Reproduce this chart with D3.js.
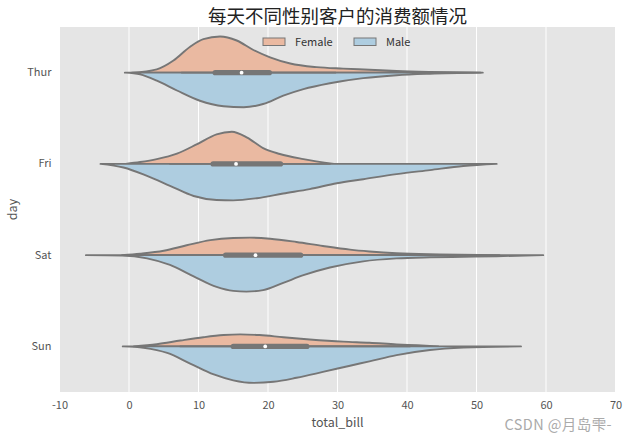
<!DOCTYPE html>
<html><head><meta charset="utf-8">
<script src="https://cdn.jsdelivr.net/npm/d3@7/dist/d3.min.js"></script>
<style>body{margin:0;background:#fff}</style>
</head><body>
<svg id="c" width="630" height="438"></svg>
<script>
const days = ["Thur", "Fri", "Sat", "Sun"];
const sexes = ["Female", "Male"];
const xTicks = [-10, 0, 10, 20, 30, 40, 50, 60, 70];

// violin density profiles: [total_bill, relative density]
const thurFemale = [[0.4,0],[4,0.09],[6.4,0.33],[8.8,0.71],[10.7,0.92],[13.1,0.99],[15.5,0.88],[17.9,0.62],[20.3,0.42],[23.2,0.25],[27,0.15],[30.8,0.11],[34.6,0.08],[38.5,0.045],[43.3,0.02],[50.9,0]];
const thurMale   = [[-0.6,0],[1.6,0.05],[4,0.22],[6.9,0.49],[10.2,0.77],[13.6,0.92],[16.5,0.95],[19.3,0.86],[22.2,0.63],[25.1,0.45],[28.9,0.29],[33.7,0.15],[38.5,0.07],[43.3,0.03],[50.6,0]];
const friFemale  = [[-0.5,0],[1.6,0.05],[4,0.13],[6.9,0.28],[9.8,0.54],[12.6,0.81],[14.8,0.88],[17,0.72],[19.3,0.43],[21.7,0.27],[25.1,0.13],[29.5,0]];
const friMale    = [[-4.1,0],[-0.8,0.1],[2.6,0.33],[5.9,0.6],[9.3,0.88],[12.6,0.99],[15,1.0],[18.4,0.94],[22.2,0.81],[26,0.69],[29.9,0.53],[33.7,0.42],[38.5,0.28],[43.3,0.17],[48.1,0.06],[52.9,0]];
const satFemale  = [[-1,0],[1.6,0.04],[5,0.12],[8.3,0.27],[11.7,0.41],[15,0.47],[17.4,0.48],[20.3,0.45],[24.1,0.36],[27.9,0.25],[31.8,0.15],[34.6,0.1],[38.5,0.05],[44.7,0.02],[53.3,0]];
const satMale    = [[-6.2,0],[-1,0.01],[2.6,0.09],[5.9,0.27],[9.3,0.58],[12.6,0.87],[15,0.98],[16.9,1.0],[19.3,0.96],[22.2,0.76],[25.1,0.55],[28.9,0.34],[33.7,0.17],[38.5,0.09],[43.3,0.06],[48.1,0.045],[52.9,0.03],[59.6,0]];
const sunFemale  = [[0.7,0],[4,0.06],[7.4,0.16],[10.7,0.25],[13.6,0.31],[16,0.33],[18.8,0.31],[22.2,0.25],[26,0.19],[30.8,0.13],[34.6,0.1],[38.5,0.055],[41.5,0.03],[44.5,0]];
const sunMale    = [[-0.9,0],[2.1,0.04],[5.5,0.18],[8.8,0.47],[12.2,0.77],[15,0.93],[17.9,1.0],[20.8,0.97],[24.1,0.86],[27.9,0.7],[31.8,0.53],[34.6,0.41],[38.5,0.24],[43.3,0.1],[48.1,0.035],[56.4,0]];

// inner box statistics per day
const q1 = [12.4, 12.1, 13.9, 15.0];
const medians = [16.2, 15.4, 18.2, 19.6];
const q3 = [20.2, 21.8, 24.7, 25.6];
const whiskerLow = [7.5, 5.8, 3.1, 7.3];
const whiskerHigh = [29.8, 29.0, 40.5, 40.5];

const profiles = {
  Thur: {Female: thurFemale, Male: thurMale},
  Fri: {Female: friFemale, Male: friMale},
  Sat: {Female: satFemale, Male: satMale},
  Sun: {Female: sunFemale, Male: sunMale}
};
const colors = {Female: "#eab9a1", Male: "#aecde0"};
const gray = "#767676";

const svg = d3.select("#c");
const m = {l: 59.5, r: 615.5, t: 27, b: 392};
const x = d3.scaleLinear().domain([-10, 70]).range([m.l, m.r]);
const y = d3.scaleBand().domain(days).range([m.t, m.b]).padding(0);
const w = d3.scaleLinear().domain([0, 1]).range([0, y.bandwidth() * 0.4]);

svg.append("defs").append("clipPath").attr("id", "clip")
  .append("rect").attr("x", m.l).attr("y", m.t).attr("width", m.r - m.l).attr("height", m.b - m.t);

svg.append("rect").attr("x", m.l).attr("y", m.t).attr("width", m.r - m.l).attr("height", m.b - m.t)
  .attr("fill", "#e5e5e5");

svg.append("g").selectAll("line").data(xTicks).join("line")
  .attr("x1", d => x(d)).attr("x2", d => x(d)).attr("y1", m.t).attr("y2", m.b)
  .attr("stroke", "#fff").attr("stroke-width", 1);

const plot = svg.append("g").attr("clip-path", "url(#clip)");

days.forEach((day, i) => {
  const cy = y(day) + y.bandwidth() / 2;
  sexes.forEach(sex => {
    const sign = sex === "Female" ? -1 : 1;
    const area = d3.area()
      .x(d => x(d[0]))
      .y0(cy)
      .y1(d => cy + sign * w(d[1]))
      .curve(d3.curveMonotoneX);
    plot.append("path").datum(profiles[day][sex])
      .attr("d", area)
      .attr("fill", colors[sex])
      .attr("stroke", gray).attr("stroke-width", 1.9).attr("stroke-linejoin", "round");
  });
  plot.append("line")
    .attr("x1", x(whiskerLow[i])).attr("x2", x(whiskerHigh[i])).attr("y1", cy).attr("y2", cy)
    .attr("stroke", gray).attr("stroke-width", 1.9);
  plot.append("line")
    .attr("x1", x(q1[i])).attr("x2", x(q3[i])).attr("y1", cy).attr("y2", cy)
    .attr("stroke", gray).attr("stroke-width", 5.2).attr("stroke-linecap", "round");
  plot.append("circle").attr("cx", x(medians[i])).attr("cy", cy).attr("r", 1.9).attr("fill", "#fff");
});

const font = "'Noto Sans CJK SC', 'Noto Sans', sans-serif";

const xAxis = svg.append("g").attr("transform", `translate(0,${m.b})`)
  .call(d3.axisBottom(x).tickValues(xTicks).tickSize(0).tickPadding(9).tickFormat(d => String(d)));
xAxis.select(".domain").remove();
xAxis.selectAll("text").attr("fill", "#555").style("font-family", font).style("font-size", "11px");

const yAxis = svg.append("g").attr("transform", `translate(${m.l},0)`)
  .call(d3.axisLeft(y).tickSize(0).tickPadding(8));
yAxis.select(".domain").remove();
yAxis.selectAll("text").attr("fill", "#555").style("font-family", font).style("font-size", "11px");

svg.append("text").attr("x", (m.l + m.r) / 2).attr("y", 427).attr("text-anchor", "middle")
  .attr("fill", "#555").style("font-family", font).style("font-size", "12.5px").text("total_bill");
svg.append("text").attr("transform", `translate(17,${(m.t + m.b) / 2}) rotate(-90)`).attr("text-anchor", "middle")
  .attr("fill", "#555").style("font-family", font).style("font-size", "12.5px").text("day");

svg.append("text").attr("x", (m.l + m.r) / 2).attr("y", 22.5).attr("text-anchor", "middle")
  .attr("fill", "#222").style("font-family", font).style("font-size", "18.5px").text("每天不同性别客户的消费额情况");

// legend
const legendX = [263, 354];
const lg = svg.append("g").selectAll("g").data(sexes).join("g")
  .attr("transform", (d, i) => `translate(${legendX[i]},38)`);
lg.append("rect").attr("width", 22).attr("height", 7.5).attr("fill", d => colors[d])
  .attr("stroke", gray).attr("stroke-width", 1);
lg.append("text").attr("x", 32).attr("y", 7.5).attr("fill", "#333")
  .style("font-family", font).style("font-size", "11px").text(d => d);

svg.append("text").attr("x", 612).attr("y", 430).attr("text-anchor", "end")
  .attr("fill", "#aaa").style("font-family", font).style("font-size", "14.5px")
  .style("letter-spacing", "0.4px").text("CSDN @月岛雫-");
</script>
</body></html>
